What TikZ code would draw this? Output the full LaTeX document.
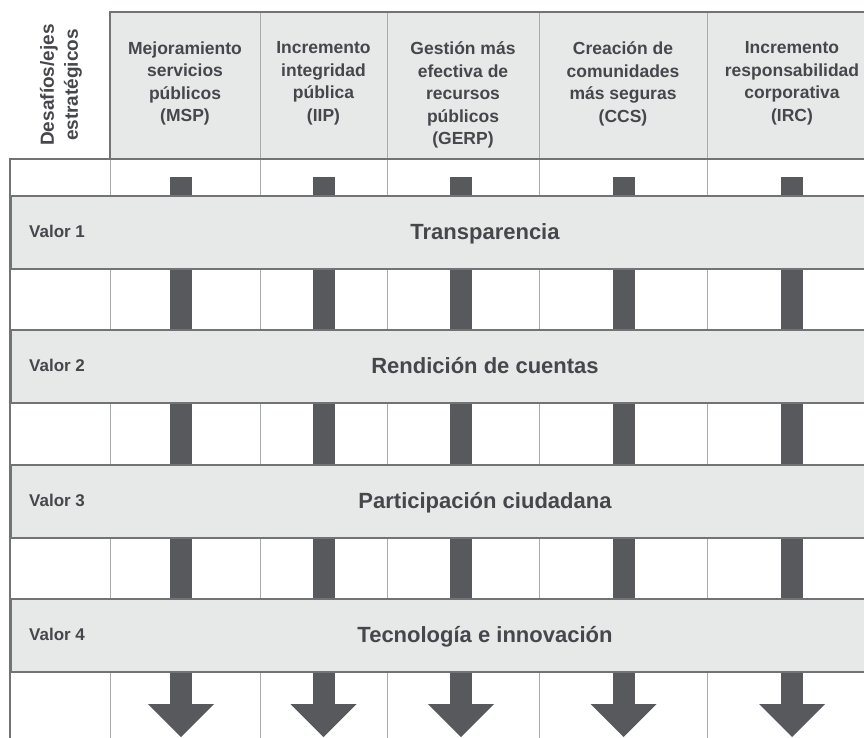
\documentclass[tikz,border=0pt]{standalone}
\usepackage{fontspec}
\setmainfont{Liberation Sans}
\usetikzlibrary{arrows.meta,positioning}
\definecolor{bandgray}{HTML}{E6E9E8}
\definecolor{bargray}{HTML}{58595C}
\definecolor{rulegray}{HTML}{727375}
\definecolor{gridgray}{HTML}{A9AAAC}
\definecolor{inkgray}{HTML}{45474B}
\tikzset{
    headtext/.style={
    anchor=north,inner sep=0pt,align=center,text=inkgray,
    font=\bfseries\fontsize{17.5}{22.5}\selectfont,execute at begin node=\strut
    },
    axistext/.style={
    rotate=90,inner sep=0pt,align=center,text=inkgray,
    font=\bfseries\fontsize{19}{24}\selectfont
    },
    band/.style={
    rectangle,fill=bandgray,draw=rulegray,line width=2.2pt,
    anchor=north west,inner sep=0pt,minimum width=870pt,minimum height=72.5pt
    },
    valor/.style={
    anchor=base west,inner sep=0pt,text=inkgray,font=\bfseries\fontsize{17}{20}\selectfont
    },
    bandtitle/.style={
    anchor=base,inner sep=0pt,text=inkgray,font=\bfseries\fontsize{22}{26}\selectfont
    },
    flow/.style={
    draw=bargray,line width=22pt,-{Triangle[width=66pt,length=33pt,line width=0pt]}
    },
    rule/.style={draw=rulegray,line width=2.2pt},
    grid/.style={draw=gridgray,line width=1pt},
}

\begin{document}
\begin{tikzpicture}[x=1pt,y=-1pt]
   \useasboundingbox (0,0) rectangle (864,738);
   \clip (0,0) rectangle (864,738);
   % header row
   \fill[bandgray] (110,12) rectangle (877,159);
   \node[axistext] (AXIS) at (61,85) {Desafíos/ejes\\estratégicos};
   \node[headtext] (MSP)  at (185,41.5)   {Mejoramiento\\servicios\\públicos\\(MSP)};
   \node[headtext] (IIP)  at (323.5,41.5) {Incremento\\integridad\\pública\\(IIP)};
   \node[headtext] (GERP) at (463,41.5)   {Gestión más\\efectiva de\\recursos\\públicos\\(GERP)};
   \node[headtext] (CCS)  at (623,41.5)   {Creación de\\comunidades\\más seguras\\(CCS)};
   \node[headtext] (IRC)  at (792,41.5)   {Incremento\\responsabilidad\\corporativa\\(IRC)};

   % column lines
   \draw[grid] (260,12) -- (260,738)  (387,12) -- (387,738)
               (539,12) -- (539,738)  (707,12) -- (707,738)
               (110,159) -- (110,738);

   % arrows down each column
   \coordinate (MSPs)  at (181,177);   \coordinate (MSPe)  at (181,737);
   \coordinate (IIPs)  at (323.5,177); \coordinate (IIPe)  at (323.5,737);
   \coordinate (GERPs) at (461,177);   \coordinate (GERPe) at (461,737);
   \coordinate (CCSs)  at (623.5,177); \coordinate (CCSe)  at (623.5,737);
   \coordinate (IRCs)  at (792,177);   \coordinate (IRCe)  at (792,737);
   \path
     (MSPs)  edge [flow] (MSPe)
     (IIPs)  edge [flow] (IIPe)
     (GERPs) edge [flow] (GERPe)
     (CCSs)  edge [flow] (CCSe)
     (IRCs)  edge [flow] (IRCe);

   % value bands
   \node[band] (V1) at (10,195) {};
   \node[band] (V2) at (10,329) {};
   \node[band] (V3) at (10,464) {};
   \node[band] (V4) at (10,598) {};
   \node[valor] (V1lbl) at (29,237.5) {Valor 1};
   \node[valor] (V2lbl) at (29,371.5) {Valor 2};
   \node[valor] (V3lbl) at (29,506.5) {Valor 3};
   \node[valor] (V4lbl) at (29,640.5) {Valor 4};
   \node[bandtitle] (TRA) at (485,239)   {Transparencia};
   \node[bandtitle] (REN) at (485,373.5) {Rendición de cuentas};
   \node[bandtitle] (PAR) at (485,508.5) {Participación ciudadana};
   \node[bandtitle] (TEC) at (485,642.5) {Tecnología e innovación};

   % outer rules
   \draw[rule] (110,159) -- (110,12) -- (877,12)
               (10,738) -- (10,159) -- (877,159);
\end{tikzpicture}
\end{document}
